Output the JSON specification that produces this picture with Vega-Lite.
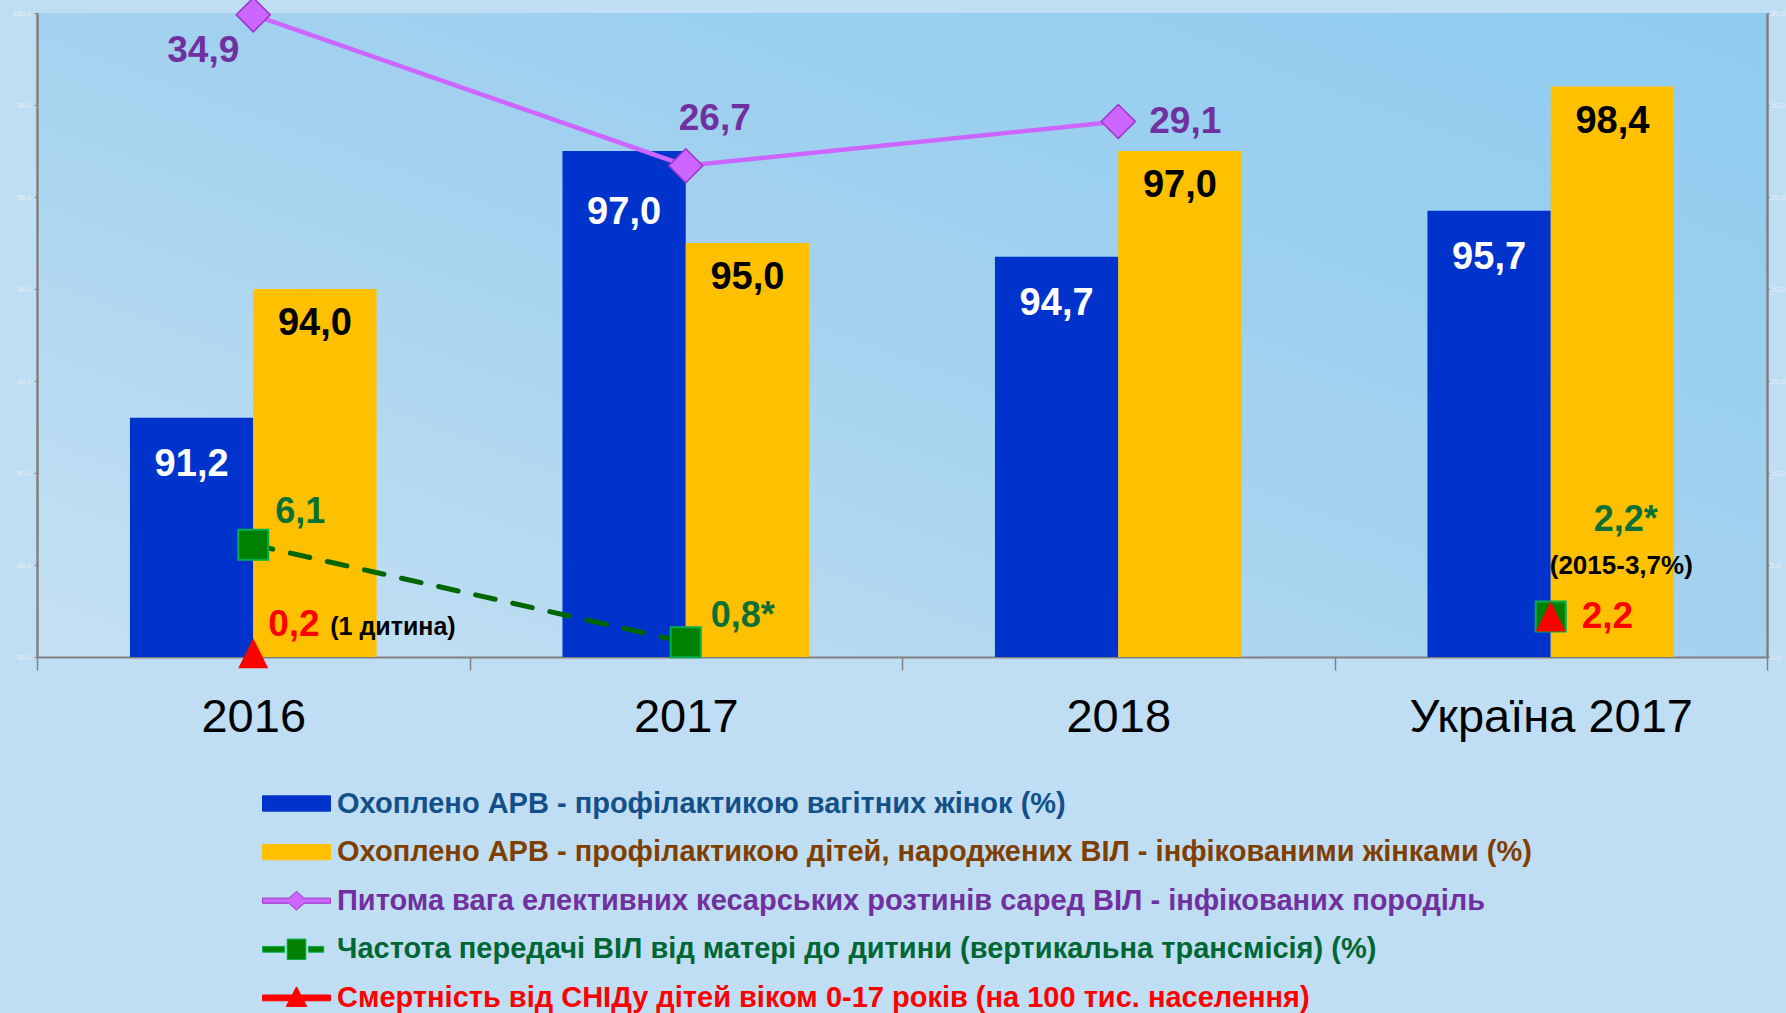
{
  "$schema": "https://vega.github.io/schema/vega-lite/v6.json",
  "width": 1730,
  "height": 644,
  "autosize": {"type": "none"},
  "padding": {"left": 37, "top": 13, "right": 19, "bottom": 356},
  "background": "#C0DEF3",
  "config": {
    "locale": {"number": {"decimal": ",", "thousands": " ", "grouping": [3], "currency": ["", " грн"]}},
    "font": "Liberation Sans",
    "view": {
      "stroke": null,
      "fill": {"gradient": "linear", "x1": 0, "y1": 1, "x2": 1, "y2": 0,
        "stops": [{"offset": 0, "color": "#C6E1F3"}, {"offset": 0.5, "color": "#A4D2EF"}, {"offset": 1, "color": "#8ECCF0"}]}
    }
  },
  "datasets": {
    "bars": [
      {"cat": "2016", "series": "Охоплено АРВ - профілактикою вагітних жінок (%)", "value": 91.2},
      {"cat": "2016", "series": "Охоплено АРВ - профілактикою дітей, народжених ВІЛ - інфікованими жінками (%)", "value": 94.0},
      {"cat": "2017", "series": "Охоплено АРВ - профілактикою вагітних жінок (%)", "value": 97.0},
      {"cat": "2017", "series": "Охоплено АРВ - профілактикою дітей, народжених ВІЛ - інфікованими жінками (%)", "value": 95.0},
      {"cat": "2018", "series": "Охоплено АРВ - профілактикою вагітних жінок (%)", "value": 94.7},
      {"cat": "2018", "series": "Охоплено АРВ - профілактикою дітей, народжених ВІЛ - інфікованими жінками (%)", "value": 97.0},
      {"cat": "Україна 2017", "series": "Охоплено АРВ - профілактикою вагітних жінок (%)", "value": 95.7},
      {"cat": "Україна 2017", "series": "Охоплено АРВ - профілактикою дітей, народжених ВІЛ - інфікованими жінками (%)", "value": 98.4}
    ],
    "lines": [
      {"cat": "2016", "key": "kes", "value": 34.9, "label": "34,9", "note": ""},
      {"cat": "2017", "key": "kes", "value": 26.7, "label": "26,7", "note": ""},
      {"cat": "2018", "key": "kes", "value": 29.1, "label": "29,1", "note": ""},
      {"cat": "2016", "key": "vert", "value": 6.1, "label": "6,1", "note": ""},
      {"cat": "2017", "key": "vert", "value": 0.8, "label": "0,8*", "note": ""},
      {"cat": "Україна 2017", "key": "vert", "value": 2.2, "label": "2,2*", "note": "(2015-3,7%)"},
      {"cat": "2016", "key": "mort", "value": 0.2, "label": "0,2", "note": "(1 дитина)"},
      {"cat": "Україна 2017", "key": "mort", "value": 2.2, "label": "2,2", "note": ""}
    ]
  },
  "encoding": {
    "x": {
      "field": "cat", "type": "nominal",
      "sort": ["2016", "2017", "2018", "Україна 2017"],
      "scale": {"paddingInner": 0, "paddingOuter": 0},
      "axis": {
        "title": null, "labelAngle": 0, "tickBand": "extent", "tickSize": 13, "tickColor": "#808080", "tickWidth": 1.5,
        "domainColor": "#808080", "domainWidth": 2, "labelFontSize": 47, "labelFont": "Liberation Sans",
        "labelColor": "#000000", "labelPadding": 24, "labelLimit": 600, "grid": false
      }
    }
  },
  "resolve": {"scale": {"y": "independent"}, "axis": {"y": "independent"}},
  "layer": [
    {
      "data": {"name": "bars"},
      "encoding": {
        "y": {
          "field": "value", "type": "quantitative",
          "scale": {"domain": [86, 100], "zero": false, "nice": false},
          "axis": {
            "orient": "left", "title": null, "grid": false, "values": [86, 88, 90, 92, 94, 96, 98, 100],
            "format": ".1f", "labelExpr": "replace(datum.label, ',', '.')", "labelFontSize": 7.5,
            "labelColor": "#E2EEF8", "domainColor": "#808080", "domainWidth": 2.5, "tickColor": "#808080",
            "tickSize": 3, "labelPadding": 3
          }
        },
        "xOffset": {
          "field": "series",
          "scale": {
            "domain": ["Охоплено АРВ - профілактикою вагітних жінок (%)", "Охоплено АРВ - профілактикою дітей, народжених ВІЛ - інфікованими жінками (%)"],
            "paddingInner": 0, "paddingOuter": 0.754
          }
        }
      },
      "layer": [
        {
          "mark": {"type": "bar"},
          "encoding": {
            "y2": {"datum": 86},
            "color": {
              "field": "series", "type": "nominal",
              "scale": {
                "domain": [
                  "Охоплено АРВ - профілактикою вагітних жінок (%)",
                  "Охоплено АРВ - профілактикою дітей, народжених ВІЛ - інфікованими жінками (%)",
                  "Питома вага елективних кесарських розтинів саред ВІЛ - інфікованих породіль",
                  "Частота передачі ВІЛ від матері до дитини (вертикальна трансмісія) (%)",
                  "Смертність від СНІДу дітей віком 0-17 років (на 100 тис. населення)"
                ],
                "range": ["#0033CC", "#FFC000", "#CC66FF", "#008000", "#FF0000"]
              },
              "legend": {
                "orient": "none", "legendX": 225, "legendY": 773, "title": null, "direction": "vertical",
                "symbolSize": 1156, "symbolStrokeWidth": 1, "labelOffset": 40,
                "labelFont": "Liberation Sans", "labelFontSize": 29, "labelFontWeight": "bold",
                "labelLimit": 3000, "rowPadding": 15.6, "padding": 0,
                "encode": {
                  "symbols": {
                    "update": {
                      "shape": {"signal": "['M-1,-0.45H3V0.45H-1Z','M-1,-0.45H3V0.45H-1Z','M-1,-0.15H0.55L1,-0.55L1.45,-0.15H3V0.15H1.45L1,0.55L0.55,0.15H-1Z','M-1,-0.17H0.3V0.17H-1Z M0.45,-0.6H1.55V0.6H0.45Z M1.7,-0.17H2.6V0.17H1.7Z','M-1,-0.17H3V0.17H-1Z M1,-0.65L1.6,0.5H0.4Z'][datum.index]"},
                      "fill": {"signal": "['#0033CC','#FFC000','#CC66FF','#008000','#FF0000'][datum.index]"},
                      "stroke": {"signal": "['#0033CC','#FFC000','#9933CC','#00B050','#FF0000'][datum.index]"},
                      "opacity": {"value": 1}
                    }
                  },
                  "labels": {
                    "update": {
                      "fill": {"signal": "['#13508A','#7F3F00','#7030A0','#006633','#FF0000'][datum.index]"}
                    }
                  }
                }
              }
            }
          }
        },
        {
          "transform": [{"filter": "datum.series === 'Охоплено АРВ - профілактикою вагітних жінок (%)' && datum.cat !== '2017'"}],
          "mark": {"type": "text", "fontSize": 38, "fontWeight": "bold", "fill": "#FFFFFF", "baseline": "middle", "dy": 47},
          "encoding": {"text": {"field": "value", "type": "quantitative", "format": ".1f"}}
        },
        {
          "transform": [{"filter": "datum.series === 'Охоплено АРВ - профілактикою вагітних жінок (%)' && datum.cat === '2017'"}],
          "mark": {"type": "text", "fontSize": 38, "fontWeight": "bold", "fill": "#FFFFFF", "baseline": "middle", "dy": 62},
          "encoding": {"text": {"field": "value", "type": "quantitative", "format": ".1f"}}
        },
        {
          "transform": [{"filter": "datum.series !== 'Охоплено АРВ - профілактикою вагітних жінок (%)'"}],
          "mark": {"type": "text", "fontSize": 38, "fontWeight": "bold", "fill": "#000000", "baseline": "middle", "dy": 35},
          "encoding": {"text": {"field": "value", "type": "quantitative", "format": ".1f"}}
        }
      ]
    },
    {
      "data": {"name": "lines"},
      "encoding": {
        "y": {
          "field": "value", "type": "quantitative",
          "scale": {"domain": [0, 35], "nice": false},
          "axis": {
            "orient": "right", "title": null, "grid": false, "values": [0, 5, 10, 15, 20, 25, 30, 35],
            "format": ".1f", "labelFontSize": 7.5, "labelColor": "#E2EEF8", "domainColor": "#808080",
            "domainWidth": 2.5, "tickColor": "#808080", "tickSize": 2, "labelPadding": 1
          }
        }
      },
      "layer": [
        {
          "transform": [{"filter": "datum.key === 'kes'"}],
          "mark": {"type": "line", "stroke": "#CC66FF", "strokeWidth": 4.5}
        },
        {
          "transform": [{"filter": "datum.key === 'kes'"}],
          "mark": {"type": "point", "shape": "diamond", "size": 1156, "filled": true, "fill": "#CC66FF", "stroke": "#9933CC", "strokeWidth": 1.5, "opacity": 1}
        },
        {
          "transform": [{"filter": "datum.key === 'vert' && datum.cat !== 'Україна 2017'"}],
          "mark": {"type": "line", "stroke": "#006600", "strokeWidth": 5, "strokeDash": [20, 18], "strokeCap": "round"}
        },
        {
          "transform": [{"filter": "datum.key === 'vert'"}],
          "mark": {"type": "point", "shape": "square", "size": 900, "filled": true, "fill": "#008000", "stroke": "#00B050", "strokeWidth": 2, "opacity": 1}
        },
        {
          "transform": [{"filter": "datum.key === 'mort'"}],
          "mark": {"type": "point", "shape": "M0,-1L1,1L-1,1Z", "size": 900, "filled": true, "fill": "#FF0000", "strokeWidth": 0, "opacity": 1}
        },
        {
          "transform": [{"filter": "datum.key === 'kes' && datum.cat === '2016'"}],
          "mark": {"type": "text", "fontSize": 37, "fontWeight": "bold", "fill": "#7030A0", "align": "center", "baseline": "middle", "dx": -50, "dy": 36},
          "encoding": {"text": {"field": "label"}}
        },
        {
          "transform": [{"filter": "datum.key === 'kes' && datum.cat === '2017'"}],
          "mark": {"type": "text", "fontSize": 37, "fontWeight": "bold", "fill": "#7030A0", "align": "center", "baseline": "middle", "dx": 29, "dy": -47},
          "encoding": {"text": {"field": "label"}}
        },
        {
          "transform": [{"filter": "datum.key === 'kes' && datum.cat === '2018'"}],
          "mark": {"type": "text", "fontSize": 37, "fontWeight": "bold", "fill": "#7030A0", "align": "center", "baseline": "middle", "dx": 67, "dy": 0},
          "encoding": {"text": {"field": "label"}}
        },
        {
          "transform": [{"filter": "datum.key === 'vert' && datum.cat === '2016'"}],
          "mark": {"type": "text", "fontSize": 36, "fontWeight": "bold", "fill": "#0A7035", "align": "left", "baseline": "middle", "dx": 22, "dy": -33},
          "encoding": {"text": {"field": "label"}}
        },
        {
          "transform": [{"filter": "datum.key === 'vert' && datum.cat === '2017'"}],
          "mark": {"type": "text", "fontSize": 36, "fontWeight": "bold", "fill": "#0A7035", "align": "left", "baseline": "middle", "dx": 25, "dy": -26},
          "encoding": {"text": {"field": "label"}}
        },
        {
          "transform": [{"filter": "datum.key === 'vert' && datum.cat === 'Україна 2017'"}],
          "mark": {"type": "text", "fontSize": 36, "fontWeight": "bold", "fill": "#0A7035", "align": "left", "baseline": "middle", "dx": 43, "dy": -97},
          "encoding": {"text": {"field": "label"}}
        },
        {
          "transform": [{"filter": "datum.key === 'vert' && datum.cat === 'Україна 2017'"}],
          "mark": {"type": "text", "fontSize": 26, "fontWeight": "bold", "fill": "#000000", "align": "left", "baseline": "middle", "dx": -1, "dy": -51},
          "encoding": {"text": {"field": "note"}}
        },
        {
          "transform": [{"filter": "datum.key === 'mort' && datum.cat === '2016'"}],
          "mark": {"type": "text", "fontSize": 37, "fontWeight": "bold", "fill": "#FF0000", "align": "left", "baseline": "middle", "dx": 15, "dy": -28},
          "encoding": {"text": {"field": "label"}}
        },
        {
          "transform": [{"filter": "datum.key === 'mort' && datum.cat === '2016'"}],
          "mark": {"type": "text", "fontSize": 25, "fontWeight": "bold", "fill": "#000000", "align": "left", "baseline": "middle", "dx": 77, "dy": -26},
          "encoding": {"text": {"field": "note"}}
        },
        {
          "transform": [{"filter": "datum.key === 'mort' && datum.cat === 'Україна 2017'"}],
          "mark": {"type": "text", "fontSize": 37, "fontWeight": "bold", "fill": "#FF0000", "align": "left", "baseline": "middle", "dx": 31, "dy": 0},
          "encoding": {"text": {"field": "label"}}
        }
      ]
    }
  ]
}
